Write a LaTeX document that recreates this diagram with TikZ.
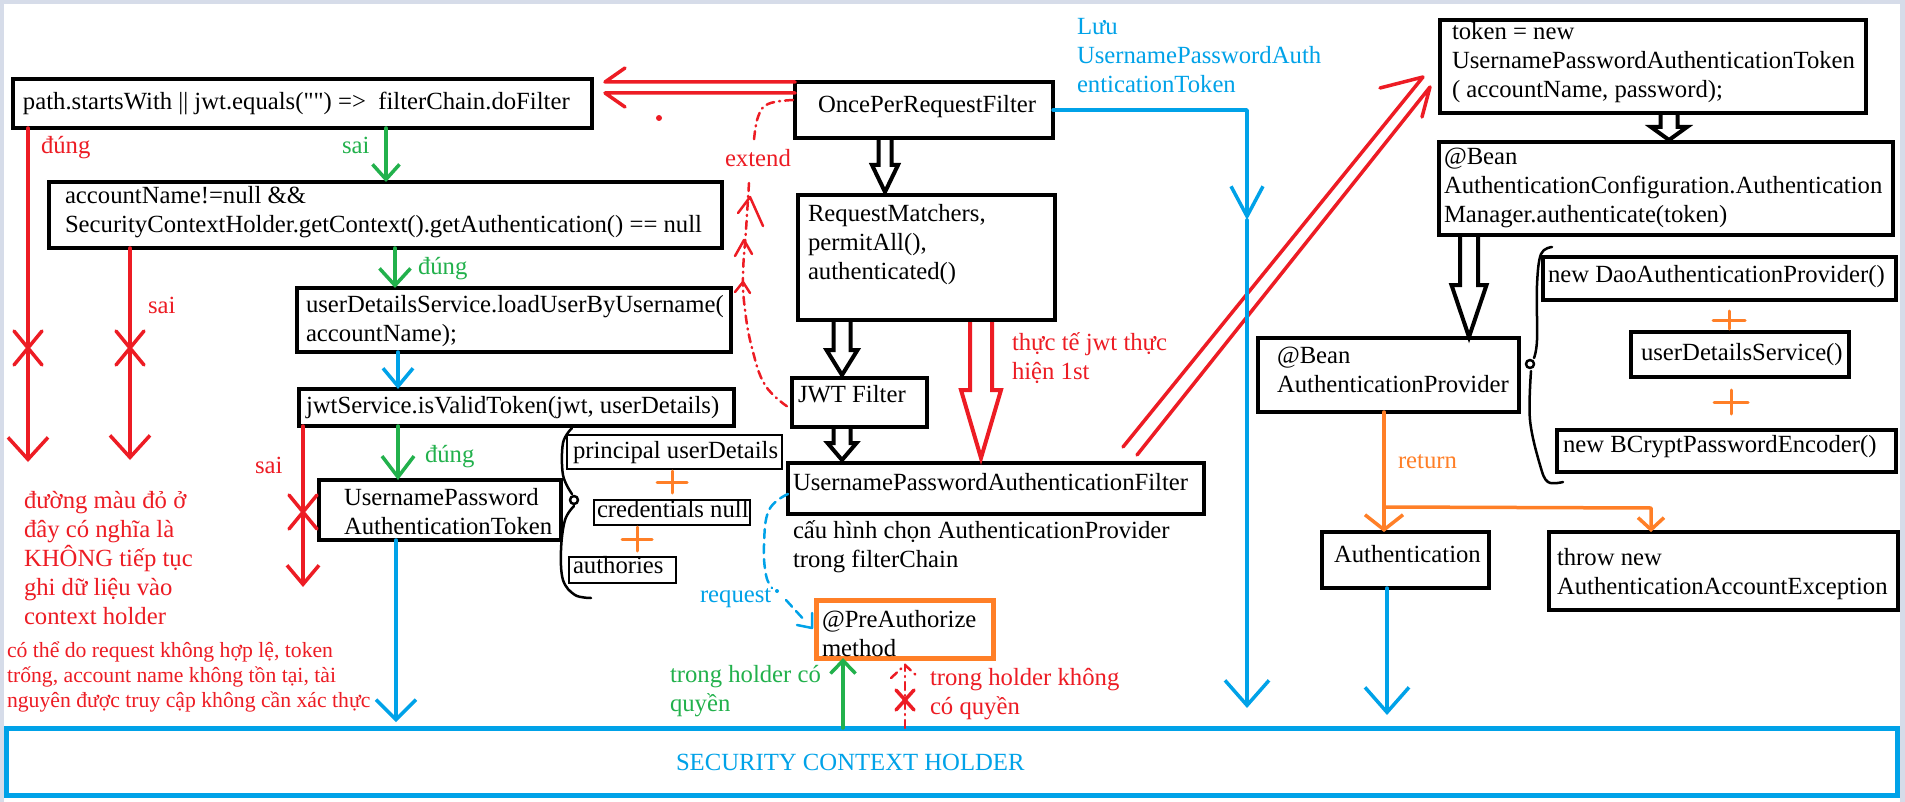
\documentclass[tikz,border=0pt]{standalone}
\usepackage{fontspec}
\setmainfont{Liberation Serif}
\newfontfamily\lserif{Liberation Serif}
\usetikzlibrary{arrows.meta}
\definecolor{pred}{RGB}{237,28,36}
\definecolor{pgreen}{RGB}{34,177,76}
\definecolor{pblue}{RGB}{0,162,232}
\definecolor{porange}{RGB}{255,127,39}
\definecolor{pframe}{RGB}{214,220,233}
\newcommand\ml[1]{\vtop{\halign{##\hfil\cr#1\crcr}}}
\newcommand\mkbox[6]{\node[#6, minimum width=#4pt-#2pt, minimum height=#5pt-#3pt] (#1) at (#2,#3) {};}
\newcommand\harrow[7]{\draw[#7] ({#1-#5},#2) -- ({#1-#5},#3) -- ({#1-#6},#3) -- (#1,#4) -- ({#1+#6},#3) -- ({#1+#5},#3) -- ({#1+#5},#2);}
\newcommand\xm[4]{\draw[rl] ({#1-#3},{#2-#4}) -- ({#1+#3},{#2+#4}) ({#1+#3},{#2-#4}) -- ({#1-#3},{#2+#4});}
\newcommand\pl[4]{\draw[ol, line width=3pt] ({#1-#3},#2) -- ({#1+#3},#2) (#1,{#2-#4}) -- (#1,{#2+#4});}
\begin{document}
\begin{tikzpicture}[x=1pt,y=-1pt,
 every node/.style={font=\lserif\fontsize{24.7}{29}\selectfont, inner sep=0pt, outer sep=0pt},
 tx/.style={anchor=base west},
 bb/.style={draw=black, line width=4.5pt, anchor=north west},
 tb/.style={draw=black, line width=1.3pt, anchor=north west},
 ob/.style={draw=porange, line width=5pt, anchor=north west},
 sb/.style={draw=pblue, line width=5pt, anchor=north west},
 rl/.style={draw=pred, line width=3.5pt, line cap=round, line join=round},
 gl/.style={draw=pgreen, line width=3.5pt, line cap=round, line join=round},
 bl/.style={draw=pblue, line width=3.5pt, line cap=round, line join=round},
 ol/.style={draw=porange, line width=3.5pt, line cap=round, line join=round},
 kl/.style={draw=black, line width=4pt, line join=miter},
 rk/.style={draw=pred, line width=4pt, line join=miter},
 hd/.style 2 args={-{Straight Barb[length=#1pt, width=#2pt]}},
 rdd/.style={draw=pred, line width=2.5pt, line cap=round, dash pattern=on 8pt off 5pt on 1pt off 5pt},
 bdd/.style={draw=pblue, line width=2.5pt, line cap=round, dash pattern=on 9pt off 6pt},
 brc/.style={draw=black, line width=2.5pt, line cap=round, line join=round},
 rt/.style={tx, text=pred}, gt/.style={tx, text=pgreen}, bt/.style={tx, text=pblue}, ot/.style={tx, text=porange}]
\useasboundingbox (0,0) rectangle (1905,802);
\fill[white] (0,0) rectangle (1905,802);
\fill[pframe] (0,0) rectangle (1905,4);
\fill[pframe] (0,0) rectangle (4,802);
\fill[pframe] (1900,0) rectangle (1905,802);
% boxes
\mkbox{pathbox}{13}{79}{592}{128}{bb}
\mkbox{accbox}{49}{182}{722}{248}{bb}
\mkbox{udsbox}{297}{288}{731}{352}{bb}
\mkbox{jwtsbox}{299}{389}{734}{426}{bb}
\mkbox{upatbox}{319}{480}{561}{540}{bb}
\mkbox{prinbox}{567}{435}{782}{469}{tb}
\mkbox{credbox}{594}{500}{750}{525}{tb}
\mkbox{authbox}{569}{557}{676}{583}{tb}
\mkbox{oncebox}{795}{82}{1053}{138}{bb}
\mkbox{rmbox}{798}{195}{1055}{320}{bb}
\mkbox{jwtfbox}{792}{378}{927}{427}{bb}
\mkbox{upafbox}{788}{463}{1204}{514}{bb}
\mkbox{preabox}{816}{600}{993}{658}{ob}
\mkbox{tokbox}{1440}{20}{1866}{113}{bb}
\mkbox{acfgbox}{1439}{142}{1893}{235}{bb}
\mkbox{apbox}{1258}{338}{1519}{412}{bb}
\mkbox{daobox}{1543}{257}{1896}{300}{bb}
\mkbox{udsvbox}{1631}{332}{1849}{377}{bb}
\mkbox{bcbox}{1557}{430}{1896}{472}{bb}
\mkbox{authnbox}{1322}{532}{1489}{588}{bb}
\mkbox{throwbox}{1549}{532}{1898}{610}{bb}
\mkbox{schbox}{6}{728}{1897}{795}{sb}
% texts
\node[tx] (pathtx) at (23,110) {path.startsWith || jwt.equals("") =>\ \ filterChain.doFilter};
\node[tx] (acctx) at (65,204) {\ml{accountName!=null \&\&\cr SecurityContextHolder.getContext().getAuthentication() == null}};
\node[tx] (udstx) at (306,312) {\ml{userDetailsService.loadUserByUsername(\cr accountName);}};
\node[tx] (jwtstx) at (306,413) {jwtService.isValidToken(jwt, userDetails)};
\node[tx] (upattx) at (344,505) {\ml{UsernamePassword\cr AuthenticationToken}};
\node[tx] (printx) at (573,458) {principal userDetails};
\node[tx] (credtx) at (597,517) {credentials null};
\node[tx] (authtx) at (573,573) {authories};
\node[tx] (oncetx) at (818,113) {OncePerRequestFilter};
\node[tx] (rmtx) at (808,222) {\ml{RequestMatchers,\cr permitAll(),\cr authenticated()}};
\node[tx] (jwtftx) at (798,402) {JWT Filter};
\node[tx] (upaftx) at (793,490) {UsernamePasswordAuthenticationFilter};
\node[tx] (cfgtx) at (793,538) {\ml{cấu hình chọn AuthenticationProvider\cr trong filterChain}};
\node[rt] (jwt1tx) at (1012,350) {\ml{thực tế jwt thực\cr hiện 1st}};
\node[bt] (luutx) at (1077,35) {\ml{Lưu\cr UsernamePasswordAuth\cr enticationToken}};
\node[tx] (toktx) at (1452,40) {\ml{token = new\cr UsernamePasswordAuthenticationToken\cr ( accountName, password);}};
\node[tx] (acfgtx) at (1444,165) {\ml{@Bean\cr AuthenticationConfiguration.Authentication\cr Manager.authenticate(token)}};
\node[tx] (aptx) at (1277,363) {\ml{@Bean\cr AuthenticationProvider}};
\node[ot] (rettx) at (1398,468) {return};
\node[tx] (authntx) at (1334,562) {Authentication};
\node[tx] (throwtx) at (1557,565) {\ml{throw new\cr AuthenticationAccountException}};
\node[tx] (daotx) at (1548,283) {new DaoAuthenticationProvider()};
\node[tx] (udsvtx) at (1641,360) {userDetailsService()};
\node[tx] (bctx) at (1563,452) {new BCryptPasswordEncoder()};
\node[bt] (reqtx) at (700,602) {request};
\node[tx] (preatx) at (822,627) {\ml{@PreAuthorize\cr method}};
\node[gt] (cotx) at (670,682) {\ml{trong holder có\cr quyền}};
\node[rt] (khongtx) at (930,685) {\ml{trong holder không\cr có quyền}};
\node[rt] (exttx) at (725,167) {extend};
\node[rt] (dung0) at (41,154) {đúng};
\node[gt] (sai1) at (342,154) {sai};
\node[gt] (dung1) at (418,275) {đúng};
\node[rt] (sai2) at (148,313) {sai};
\node[gt] (dung2) at (425,462) {đúng};
\node[rt] (sai3) at (255,473) {sai};
\node[rt] (note1) at (24,508) {\ml{đường màu đỏ ở\cr đây có nghĩa là\cr KHÔNG tiếp tục\cr ghi dữ liệu vào\cr context holder}};
\node[rt, font=\lserif\fontsize{21.7}{25}\selectfont] (note2) at (7,657) {\ml{có thể do request không hợp lệ, token\cr trống, account name không tồn tại, tài\cr nguyên được truy cập không cần xác thực}};
\node[bt] (schtx) at (676,770) {SECURITY CONTEXT HOLDER};
% hollow block arrows
\harrow{885}{139}{165}{192}{6.5}{13}{kl}
\harrow{842}{322}{350}{375}{8.5}{15.5}{kl}
\harrow{842}{429}{443}{460}{8.5}{14.5}{kl}
\harrow{981}{322}{390}{458}{11}{20}{rk}
\harrow{1669}{115}{127}{140}{8.5}{18}{kl}
\harrow{1469}{237}{285}{337}{9}{17.5}{kl}
% red double arrows
\draw[rl] (625,68) -- (605,82) -- (oncebox.west |- 0,82);
\draw[rl] (625,107) -- (605,93) -- (oncebox.west |- 0,93);
\fill[pred] (659,118) circle (3);
\draw[rl] (1380,88) -- (1423,77) -- (1123,447);
\draw[rl] (1422,117) -- (1430,87) -- (1137,455);
% red "not continue" lines
\draw[rl, hd={22}{40}] (pathbox.south -| 28,0) -- (28,462);
\draw[rl, hd={22}{40}] (accbox.south -| 130,0) -- (130,460);
\draw[rl, hd={19}{32}] (jwtsbox.south -| 303,0) -- (303,587);
\xm{28}{348}{14}{17}
\xm{130}{348}{14}{17}
\xm{303}{512}{14}{17}
% flow arrows
\draw[gl, hd={15}{27}] (pathbox.south -| 386,0) -- (accbox.north -| 386,0);
\draw[gl, hd={17}{31}] (accbox.south -| 395,0) -- (udsbox.north -| 395,0);
\draw[bl, hd={18}{30}] (udsbox.south -| 398,0) -- (jwtsbox.north -| 398,0);
\draw[gl, hd={21}{32}] (jwtsbox.south -| 398,0) -- (upatbox.north -| 398,0);
\draw[bl, hd={20}{40}] (upatbox.south -| 396,0) -- (396,722);
\coordinate (bmid) at (1247,220);
\coordinate (bend) at (1247,708);
\draw[bl, hd={30}{32}] (oncebox.east) -| (bmid);
\draw[bl, hd={25}{44}] (bmid) -- (bend);
\draw[bl, hd={25}{44}] (authnbox.south -| 1387,0) -- (1387,715);
\draw[ol, hd={15}{38}] (apbox.south -| 1384,0) -- (authnbox.north -| 1384,0);
\draw[ol, hd={12}{26}] (1384,507) -- (1651,508) -- (throwbox.north -| 1651,0);
\draw[gl, hd={13}{25}] (schbox.north -| 843,0) -- (preabox.south -| 843,0);
\draw[rdd] (schbox.north -| 905,0) -- (905,665);
\draw[rdd] (891,678) -- (905,665) -- (917,676);
\xm{905}{700}{9}{10}
% plus signs
\pl{672}{482}{15}{11}
\pl{637}{539}{15}{12}
\pl{1729}{320}{16}{9}
\pl{1731}{402}{17}{12}
% braces
\draw[brc] plot[smooth, tension=0.6] coordinates {(572,428) (563,443) (563,475) (572,494)};
\draw[brc] (574,500) circle (4);
\draw[brc] plot[smooth, tension=0.6] coordinates {(574,506) (565,520) (561,550) (563,580) (575,595) (591,598)};
\draw[brc] plot[smooth, tension=0.6] coordinates {(1552,247) (1541,254) (1537,285) (1537,340) (1534,358)};
\draw[brc] (1530,364) circle (4);
\draw[brc] plot[smooth, tension=0.6] coordinates {(1531,371) (1530,420) (1540,465) (1548,482) (1563,482)};
% extend curve
\draw[rdd] plot[smooth, tension=0.7] coordinates {(793,100) (768,104) (758,117) (754,140)};
\draw[rdd] plot[smooth, tension=0.7] coordinates {(749,183) (746,230) (743,275) (745,310) (752,348) (765,385) (788,407)};
\draw[rl, line width=2.5pt] (738,213) -- (750,197) -- (763,226);
\draw[rl, line width=2.5pt] (735,256) -- (744,240) -- (752,254);
\draw[rl, line width=2.5pt] (735,292) -- (743,282) -- (750,293);
% request curve
\draw[bdd] plot[smooth, tension=0.7] coordinates {(upafbox.west |- 0,494) (769,510) (764,545) (766,575) (772,588)};
\fill[pblue] (777,591) circle (2);
\draw[bdd] (786,600) -- (806,622);
\draw[bl, line width=2.5pt] (797,625) -- (812,628) -- (812,613);
\end{tikzpicture}
\end{document}
